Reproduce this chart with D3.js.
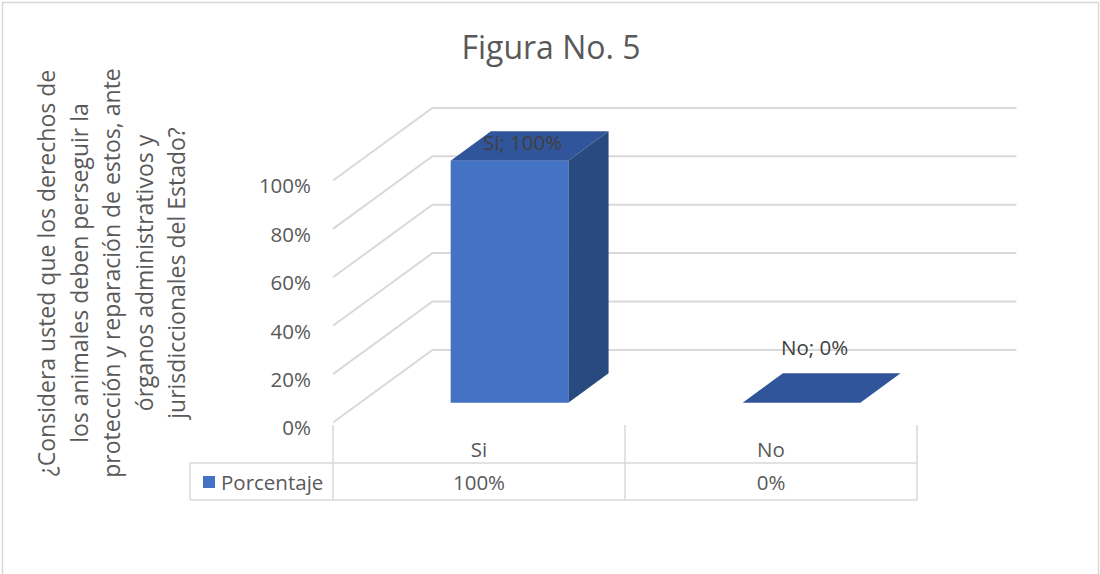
<!DOCTYPE html>
<html>
<head>
<meta charset="utf-8">
<script src="https://d3js.org/d3.v7.min.js"></script>
<style>
  body { margin: 0; background: #fff; }
  svg text { font-family: "Open Sans", "Noto Sans", sans-serif; }
</style>
</head>
<body>
<svg width="1100" height="574"></svg>
<script>
// chart data
var categories = ["Si", "No"];
var values = [100, 0];
var seriesName = "Porcentaje";
var yTicks = [0, 20, 40, 60, 80, 100];
var chartTitle = "Figura No. 5";
var axisTitleLines = [
  "¿Considera usted que los derechos de",
  "los animales deben perseguir la",
  "protección y reparación de estos, ante",
  "órganos administrativos y",
  "jurisdiccionales del Estado?"
];

var svg = d3.select("svg");

// outer chart border
svg.append("rect")
  .attr("x", 2.5).attr("y", 2.5)
  .attr("width", 1096).attr("height", 600)
  .attr("fill", "#fff")
  .attr("stroke", "#d9d9d9")
  .attr("stroke-width", 1.5);

// 3d look: depth vector for the oblique projection
var DX = 99.4, DY = -72.6;
var x = d3.scaleBand().domain(categories).range([333, 917]);
var y = d3.scaleLinear().domain([0, 100]).range([422.5, 180.5]);

function proj(px, v, d) {
  return [px + DX * d, y(v) + DY * d];
}

// title
svg.append("text")
  .attr("x", 551).attr("y", 59)
  .attr("text-anchor", "middle")
  .attr("font-size", "32px")
  .attr("fill", "#595959")
  .text(chartTitle);

// gridlines: side wall + back wall
var grid = svg.append("g");
yTicks.forEach(function(t) {
  var a = proj(x.range()[0], t, 0);
  var b = proj(x.range()[0], t, 1);
  var c = proj(x.range()[1], t, 1);
  grid.append("path")
    .attr("d", d3.line()([a, b, c]))
    .attr("fill", "none")
    .attr("stroke", "#d9d9d9")
    .attr("stroke-width", 2);
});

// y axis labels
var yAxis = svg.append("g")
  .attr("transform", "translate(" + x.range()[0] + ",0)")
  .call(d3.axisLeft(y).tickValues(yTicks).tickSize(0).tickPadding(22)
    .tickFormat(function(d) { return d + "%"; }));
yAxis.select(".domain").remove();
yAxis.selectAll("text")
  .attr("font-family", "'Open Sans', sans-serif")
  .attr("font-size", "20.5px")
  .attr("fill", "#595959")
  .attr("dy", "0.6em");

// bars
var d1 = 0.273, d2 = 0.678;
var bars = svg.append("g");
categories.forEach(function(c, i) {
  var bw = x.bandwidth();
  var x0 = x(c) + bw * 0.31;
  var x1 = x0 + bw * 0.403;
  var v = values[i];
  var side = [proj(x1, 0, d1), proj(x1, 0, d2), proj(x1, v, d2), proj(x1, v, d1)];
  var front = [proj(x0, 0, d1), proj(x1, 0, d1), proj(x1, v, d1), proj(x0, v, d1)];
  var top = [proj(x0, v, d1), proj(x1, v, d1), proj(x1, v, d2), proj(x0, v, d2)];
  if (v > 0) {
    bars.append("polygon").attr("points", side.join(" ")).attr("fill", "#294A7E");
    bars.append("polygon").attr("points", front.join(" ")).attr("fill", "#4472C4");
  }
  bars.append("polygon").attr("points", top.join(" ")).attr("fill", "#30559A");

  // data label
  var mid = proj((x0 + x1) / 2, v, (d1 + d2) / 2);
  var ly = Math.max(mid[1] - 40, 143);
  bars.append("text")
    .attr("x", mid[0] - 7).attr("y", ly)
    .attr("dy", "0.36em")
    .attr("text-anchor", "middle")
    .attr("font-size", "20.5px")
    .attr("fill", "#404040")
    .text(c + "; " + v + "%");
});

// data table
var tbl = svg.append("g")
  .attr("stroke", "#d9d9d9")
  .attr("stroke-width", 1.5)
  .attr("fill", "none");
var cols = [x.range()[0]].concat(categories.map(function(c) { return x(c) + x.bandwidth(); }));
cols.forEach(function(cx) {
  tbl.append("line").attr("x1", cx).attr("x2", cx).attr("y1", 425).attr("y2", 500);
});
tbl.append("line").attr("x1", 190).attr("x2", x.range()[1]).attr("y1", 463).attr("y2", 463);
tbl.append("line").attr("x1", 190).attr("x2", x.range()[1]).attr("y1", 500).attr("y2", 500);
tbl.append("line").attr("x1", 190).attr("x2", 190).attr("y1", 463).attr("y2", 500);

svg.selectAll(".cat")
  .data(categories)
  .enter().append("text")
  .attr("class", "cat")
  .attr("x", function(d) { return x(d) + x.bandwidth() / 2; })
  .attr("y", 457)
  .attr("text-anchor", "middle")
  .attr("font-size", "20.5px")
  .attr("fill", "#595959")
  .text(function(d) { return d; });

svg.selectAll(".val")
  .data(values)
  .enter().append("text")
  .attr("class", "val")
  .attr("x", function(d, i) { return x(categories[i]) + x.bandwidth() / 2; })
  .attr("y", 489.5)
  .attr("text-anchor", "middle")
  .attr("font-size", "20.5px")
  .attr("fill", "#595959")
  .text(function(d) { return d + "%"; });

svg.append("rect")
  .attr("x", 203).attr("y", 476)
  .attr("width", 12).attr("height", 12)
  .attr("fill", "#4472C4");
svg.append("text")
  .attr("x", 221).attr("y", 489.5)
  .attr("font-size", "20.5px")
  .attr("fill", "#595959")
  .text(seriesName);

// rotated y axis title
var at = svg.append("text")
  .attr("transform", "translate(0,273) rotate(-90)")
  .attr("text-anchor", "middle")
  .attr("font-size", "23px")
  .attr("fill", "#595959");
axisTitleLines.forEach(function(l, i) {
  at.append("tspan")
    .attr("x", 0)
    .attr("y", 55 + i * 32.5)
    .text(l);
});
</script>
</body>
</html>
